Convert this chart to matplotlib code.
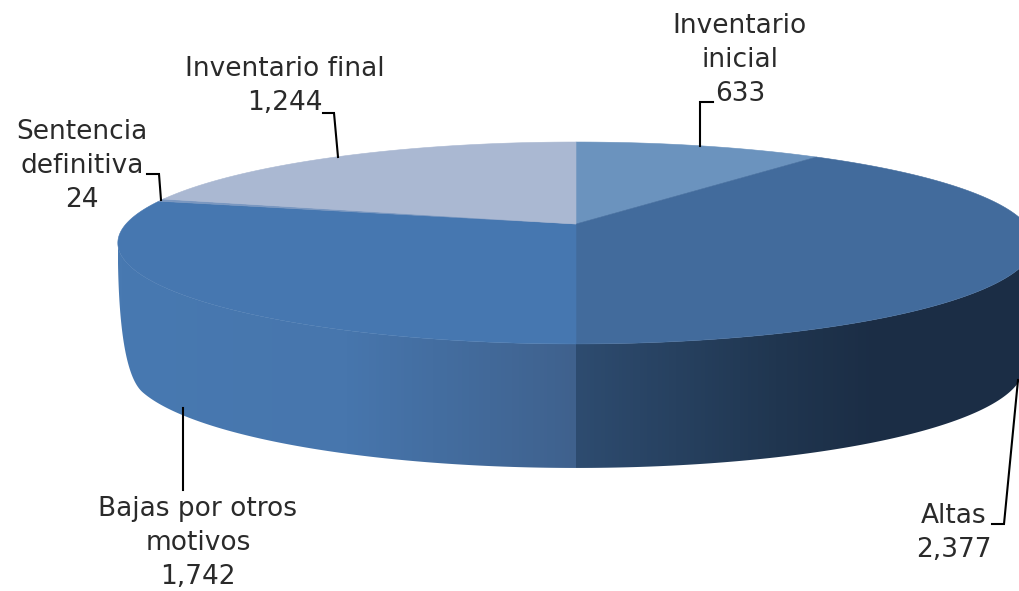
import numpy as np
import matplotlib
matplotlib.use('Agg')
import matplotlib.pyplot as plt
from matplotlib.colors import LinearSegmentedColormap
from matplotlib.patches import Polygon

# datos del pastel, en sentido horario desde las 12
categorias = ['Inventario\ninicial', 'Altas', 'Bajas por otros\nmotivos', 'Sentencia\ndefinitiva', 'Inventario final']
valores = [633, 2377, 1742, 24, 1244]
colores_cara = ['#6b93be', '#426b9c', '#4677b0', '#7a97c0', '#aab8d2']

# posicion de cada etiqueta y su linea guia (pixeles)
pos_etiquetas = [(740, 60), (954, 533), (198, 543), (82, 166), (285, 86)]
guias = [
    [(713, 102), (700, 102), (700, 146)],
    [(992, 524), (1004, 524), (1018, 380)],
    [(183, 408), (183, 490)],
    [(147, 174), (159, 174), (161, 200)],
    [(323, 113), (334, 113), (338, 157)],
]

# geometria de la perspectiva
cx, cy = 576, 224
rx, ry = 450, 97.4
fuga = 0.188
grosor = 124
escala_base = 0.977  # la base se ve un poco mas angosta
redondeo = 14  # grados que ocupa la esquina redondeada de la base


def proyectar(ang):
    # ang en grados desde las 12, sentido horario
    t = np.radians(ang)
    u, v = np.sin(t), np.cos(t)
    return cx + rx * u / (1 + fuga * v), cy - ry * v / (1 + fuga * v)


def base(ang):
    x, y = proyectar(ang)
    return cx + (x - cx) * escala_base, y + grosor


fig = plt.figure(figsize=(10.19, 5.91), dpi=100)
ax = fig.add_axes([0, 0, 1, 1])
ax.set_xlim(0, 1019)
ax.set_ylim(591, 0)
ax.axis('off')

angulos = np.cumsum([0] + valores) / sum(valores) * 360

# lado del cilindro: solo la parte delantera de cada rebanada
ang_todo = np.linspace(0, 360, 1441)
xs_todo, _ = proyectar(ang_todo)
ang_der = ang_todo[np.argmax(xs_todo)]
ang_izq = ang_todo[np.argmin(xs_todo)]

degradado = LinearSegmentedColormap.from_list('lado', [
    (0.0, '#4879b1'), (0.25, '#4776ad'), (0.4995, '#3f618d'),
    (0.5005, '#2e4c70'), (0.72, '#203650'), (0.83, '#1b2d45'), (1.0, '#1b2d45'),
])
x_grad = np.linspace(0, 1, 916).reshape(1, -1)
for ini, fin in zip(angulos[:-1], angulos[1:]):
    a = max(ini, ang_der)
    b = min(fin, ang_izq)
    if b <= a:
        continue
    x, y = proyectar(np.linspace(a, b, 300))
    if b == ang_izq:
        # esquina izquierda redondeada, tangente a la curva de la base
        xb, yb = base(np.linspace(a, b - redondeo, 300))
        pendiente = (yb[-1] - yb[-2]) / (xb[-1] - xb[-2])
        xc, yc = x[-1], yb[-1] + (x[-1] - xb[-1]) * pendiente
        t = np.linspace(0, 1, 40)
        xe = (1 - t) ** 2 * x[-1] + 2 * t * (1 - t) * xc + t ** 2 * xb[-1]
        ye = (1 - t) ** 2 * y[-1] + 2 * t * (1 - t) * yc + t ** 2 * yb[-1]
        xb, yb = np.r_[xb, xe[::-1]], np.r_[yb, ye[::-1]]
    else:
        xb, yb = base(np.linspace(a, b, 300))
    puntos = np.r_[np.c_[x, y], np.c_[xb[::-1], yb[::-1]]]
    poli = Polygon(puntos, closed=True, fc='none', ec='none', transform=ax.transData)
    ax.add_patch(poli)
    im = ax.imshow(x_grad, cmap=degradado, extent=(118, 1034, 591, 0), aspect='auto',
                   interpolation='nearest', zorder=1)
    im.set_clip_path(poli)

ax.set_xlim(0, 1019)
ax.set_ylim(591, 0)

# cara superior
for ini, fin, color in zip(angulos[:-1], angulos[1:], colores_cara):
    x, y = proyectar(np.linspace(ini, fin, 300))
    puntos = np.r_[[[cx, cy]], np.c_[x, y]]
    ax.add_patch(Polygon(puntos, closed=True, fc=color, ec=color, lw=0.4, zorder=2))

# lineas guia
for guia in guias:
    xg, yg = zip(*guia)
    ax.plot(xg, yg, color='black', lw=1.5, zorder=3, solid_joinstyle='miter')

# etiquetas
for nombre, valor, (xt, yt) in zip(categorias, valores, pos_etiquetas):
    ax.text(xt, yt, f'{nombre}\n{valor:,}', ha='center', va='center', fontsize=19,
            family='DejaVu Sans', color='#2a2a2a', linespacing=1.42, zorder=4)

fig.savefig('out.png', dpi=100)
